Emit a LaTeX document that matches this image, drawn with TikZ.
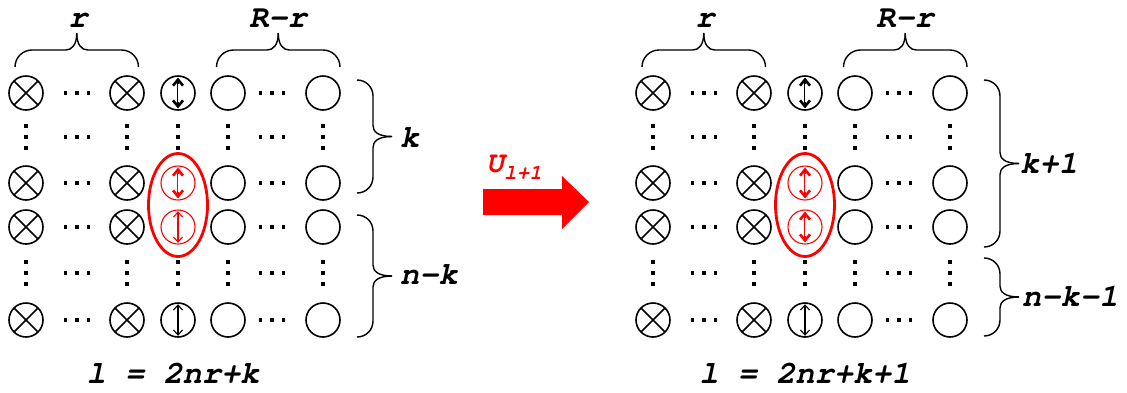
\documentclass[tikz,border=0pt]{standalone}
\usepackage[T1]{fontenc}
\newcommand\cour{\fontencoding{T1}\fontfamily{pcr}\fontseries{b}\fontshape{sl}\selectfont}
\usetikzlibrary{arrows.meta}
\newcommand\myhdots[2]{\foreach \dd in {-11.5,0,11.5}{\fill ({#1+\dd-1.7},{#2-1.7}) rectangle ({#1+\dd+1.7},{#2+1.7});}}
\newcommand\myvdots[2]{\foreach \dd in {-11,0,11}{\fill ({#1-1.7},{#2+\dd-1.7}) rectangle ({#1+1.7},{#2+\dd+1.7});}}
% top brace: x1 x2 y0 (tip up)
\newcommand\mytopbrace[3]{%
  \draw[brc] (#1,#3) .. controls (#1,{#3-9.4}) and ({#1+7.6},{#3-17}) .. ({#1+17},{#3-17})
    -- ({(#1+#2)/2-11},{#3-17}) .. controls ({(#1+#2)/2-5},{#3-17}) and ({(#1+#2)/2},{#3-22}) .. ({(#1+#2)/2},{#3-34});
  \draw[brc] (#2,#3) .. controls (#2,{#3-9.4}) and ({#2-7.6},{#3-17}) .. ({#2-17},{#3-17})
    -- ({(#1+#2)/2+11},{#3-17}) .. controls ({(#1+#2)/2+5},{#3-17}) and ({(#1+#2)/2},{#3-22}) .. ({(#1+#2)/2},{#3-34});
}
% right brace: x0 y1 y2 (tip right)
\newcommand\myrightbrace[3]{%
  \draw[brc] (#1,#2) .. controls ({#1+9},#2) and ({#1+16},{#2+7}) .. ({#1+16},{#2+16})
    -- ({#1+16},{(#2+#3)/2-11}) .. controls ({#1+16},{(#2+#3)/2-5}) and ({#1+21},{(#2+#3)/2}) .. ({#1+35},{(#2+#3)/2});
  \draw[brc] (#1,#3) .. controls ({#1+9},#3) and ({#1+16},{#3-7}) .. ({#1+16},{#3-16})
    -- ({#1+16},{(#2+#3)/2+11}) .. controls ({#1+16},{(#2+#3)/2+5}) and ({#1+21},{(#2+#3)/2}) .. ({#1+35},{(#2+#3)/2});
}
\tikzset{
  qb/.style={circle, draw, line width=1.6pt, minimum size=34pt, inner sep=0pt, outer sep=0pt},
  rqb/.style={qb, draw=red, line width=1.1pt},
  brc/.style={line width=1.4pt},
  lbl/.style={font=\cour\fontsize{32}{32}\selectfont, inner sep=0pt},
  barb/.style={{Straight Barb[length=6pt,width=10pt]}-{Straight Barb[length=6pt,width=10pt]}},
  thinarr/.style={line width=1.1pt, {Straight Barb[length=5pt,width=9pt]}-{Straight Barb[length=5pt,width=9pt]}, shorten <=1.2pt, shorten >=1.2pt},
  thickarr/.style={line width=2.6pt, barb, shorten <=1.6pt, shorten >=1.6pt},
  whiteln/.style={line width=0.6pt, white, shorten <=8pt, shorten >=8pt},
}
\newcommand\mycross[1]{\draw[line width=1.6pt] (#1.north west) -- (#1.south east) (#1.north east) -- (#1.south west);}
\begin{document}
\begin{tikzpicture}[x=1pt,y=-1pt]
\useasboundingbox (0,0) rectangle (1127,392);
\foreach \p/\o in {a/0, b/627}{
  % qubit nodes
  \foreach \r/\y in {1/93, 3/183, 4/227, 6/320}{
    \node[qb] (\p-\r-1) at ({\o+26},\y) {};
    \node[qb] (\p-\r-2) at ({\o+127},\y) {};
    \node[qb] (\p-\r-4) at ({\o+228},\y) {};
    \node[qb] (\p-\r-5) at ({\o+323},\y) {};
    \mycross{\p-\r-1}
    \mycross{\p-\r-2}
    \myhdots{\o+77}{\y}
    \myhdots{\o+272}{\y}
  }
  \foreach \y in {137, 273}{
    \foreach \x in {26,127,178,228,323}{\myvdots{\o+\x}{\y}}
    \myhdots{\o+77}{\y}
    \myhdots{\o+272}{\y}
  }
  % column of moving qubits
  \node[qb] (\p-1-3) at ({\o+178},93) {};
  \draw[thickarr] (\p-1-3.north) -- (\p-1-3.south);
  \draw[whiteln] (\p-1-3.north) -- (\p-1-3.south);
  \node[qb] (\p-6-3) at ({\o+178},320) {};
  \draw[thinarr] (\p-6-3.north) -- (\p-6-3.south);
  \node[rqb] (\p-3-3) at ({\o+178},183) {};
  \node[rqb] (\p-4-3) at ({\o+178},227) {};
  \draw[red, thickarr] (\p-3-3.north) -- (\p-3-3.south);
  \draw[whiteln] (\p-3-3.north) -- (\p-3-3.south);
  \draw[red, line width=2.8pt] ({\o+178},205) ellipse [x radius=29.5, y radius=51.5];
  % top braces and labels
  \mytopbrace{\o+15}{\o+138.5}{67}
  \mytopbrace{\o+216.5}{\o+340}{67}
  \node[lbl, anchor=base] (\p-lr) at ({\o+78},27) {r};
  \node[lbl, anchor=base] (\p-lRr) at ({\o+278},27) {R-r};
}
% left-panel specifics
\draw[red, thinarr] (a-4-3.north) -- (a-4-3.south);
\myrightbrace{357}{80}{193}
\myrightbrace{357}{215}{337}
\node[lbl, anchor=base west] (kl) at (400,147) {k};
\node[lbl, anchor=base west] (nkl) at (400,284) {n-k};
\node[lbl, anchor=base] (eql) at (173,383) {l = 2nr+k};
% right-panel specifics
\draw[red, thickarr] (b-4-3.north) -- (b-4-3.south);
\draw[whiteln] (b-4-3.north) -- (b-4-3.south);
\myrightbrace{984}{80}{247}
\myrightbrace{984}{258}{336}
\node[lbl, anchor=base west] (kr) at (1020,173) {k+1};
\node[lbl, anchor=base west] (nkr) at (1022,306) {n-k-1};
\node[lbl, anchor=base] (eqr) at (805,383) {l = 2nr+k+1};
% big arrow
\fill[red] (483,189) -- (562,189) -- (562,176) -- (589,202) -- (562,229) -- (562,215) -- (483,215) -- cycle;
\node[anchor=base west, inner sep=0pt, text=red, font=\cour\fontsize{30}{30}\selectfont] (ul) at (486,172) {U\raisebox{-7pt}{\fontsize{21}{21}\selectfont l+1}};
\end{tikzpicture}
\end{document}
